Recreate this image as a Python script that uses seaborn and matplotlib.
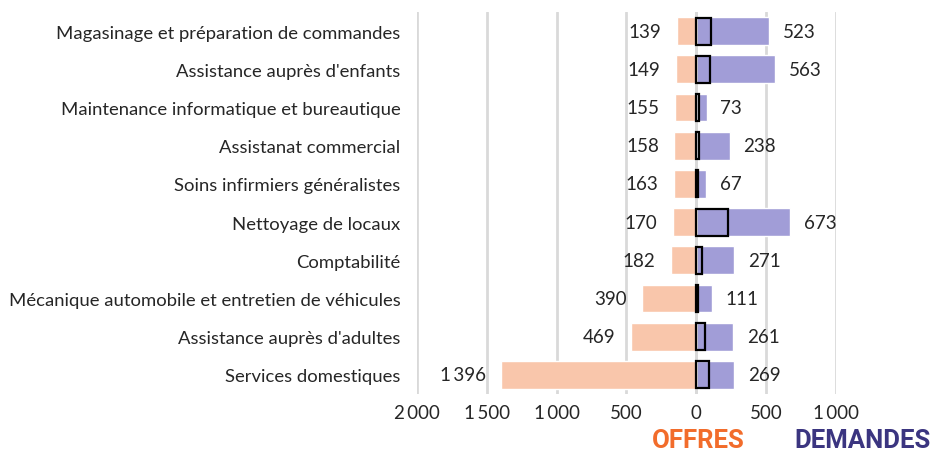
import matplotlib
matplotlib.use("Agg")
import matplotlib.pyplot as plt
from matplotlib.ticker import FixedLocator, FuncFormatter
import seaborn as sns
import pandas as pd

metiers = [
    "Magasinage et préparation de commandes",
    "Assistance auprès d'enfants",
    "Maintenance informatique et bureautique",
    "Assistanat commercial",
    "Soins infirmiers généralistes",
    "Nettoyage de locaux",
    "Comptabilité",
    "Mécanique automobile et entretien de véhicules",
    "Assistance auprès d'adultes",
    "Services domestiques",
]
offres = [139, 149, 155, 158, 163, 170, 182, 390, 469, 1396]
demandes = [523, 563, 73, 238, 67, 673, 271, 111, 261, 269]
demandes_part = [105, 100, 20, 20, 10, 230, 38, 12, 62, 92]

PEACH = "#F9C6AB"
LAVENDER = "#A19DD7"
ORANGE = "#F26C2B"
NAVY = "#3B3580"
TEXT = "#262626"
GRID = "#D9D9D9"

sns.set_theme(style="white")
plt.rcParams["font.family"] = ["Lato", "DejaVu Sans"]

df = pd.DataFrame({
    "metier": metiers,
    "offres": [-v for v in offres],
    "demandes": demandes,
    "part": demandes_part,
})

fig = plt.figure(figsize=(9.34, 4.52), dpi=100)
ax = fig.add_axes([417 / 934, 1 - 395 / 452, (836 - 417) / 934, 382 / 452])

bar_w = 0.73
sns.barplot(data=df, x="offres", y="metier", color=PEACH, width=bar_w,
            saturation=1, orient="h", ax=ax, zorder=2)
sns.barplot(data=df, x="demandes", y="metier", color=LAVENDER, width=bar_w,
            saturation=1, orient="h", ax=ax, zorder=2)
# category axis line sits on top of the bars
ax.axvline(0, color=GRID, linewidth=2, zorder=2.5)
sns.barplot(data=df, x="part", y="metier", color="black", width=bar_w - 0.02,
            fill=False, linewidth=1.6, saturation=1, orient="h", ax=ax, zorder=3)


def fr_num(v):
    s = f"{int(round(abs(v))):,}"
    return s.replace(",", "\u2009")


# value labels beside each bar
for i, (o, d) in enumerate(zip(offres, demandes)):
    ax.annotate(fr_num(o), xy=(-o, i), xytext=(-11, 0), textcoords="offset points",
                ha="right", va="center", fontsize=13.5, color=TEXT)
    ax.annotate(fr_num(d), xy=(d, i), xytext=(10, 0), textcoords="offset points",
                ha="left", va="center", fontsize=13.5, color=TEXT)

ax.set_xlim(-2000, 1000)
ax.set_ylim(9.5, -0.5)
ax.xaxis.set_major_locator(FixedLocator([-2000, -1500, -1000, -500, 0, 500, 1000]))
ax.xaxis.set_major_formatter(FuncFormatter(lambda v, p: fr_num(v)))
ax.grid(axis="x", color=GRID, linewidth=2, zorder=0)
ax.set_axisbelow(True)
for s in ax.spines.values():
    s.set_visible(False)
ax.set_xlabel("")
ax.set_ylabel("")
ax.tick_params(axis="x", length=0, pad=7, labelsize=13.5, labelcolor=TEXT)
ax.tick_params(axis="y", length=0, pad=12, labelsize=13.3, labelcolor=TEXT)

fig.text(698 / 934, 1 - 441 / 452, "OFFRES", color=ORANGE, fontsize=18.5,
         fontweight="bold", ha="center", va="center", family=["Roboto", "DejaVu Sans"])
fig.text(862 / 934, 1 - 441 / 452, "DEMANDES", color=NAVY, fontsize=18.5,
         fontweight="bold", ha="center", va="center", family=["Roboto", "DejaVu Sans"])

fig.savefig("out.png", dpi=100)
